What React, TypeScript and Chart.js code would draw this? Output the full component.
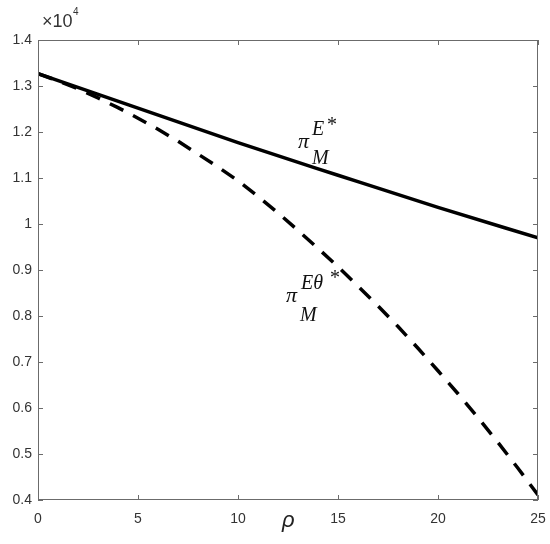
import React, { useEffect, useRef } from "react";
import { Chart, registerables } from "chart.js";

Chart.register(...registerables);

// rho values (x axis)
const rhoSolid = [0, 5, 10, 15, 20, 25];
// pi_M^{E*}  (×10^4)
const piE = [1.327, 1.252, 1.177, 1.106, 1.036, 0.97];

const rhoDashed = [0, 1, 2, 3, 4, 5, 6, 7, 8, 9, 10, 11, 12, 13, 14, 15, 16, 17, 18, 19, 20, 21, 22, 23, 24, 25];
// pi_M^{Eθ*}  (×10^4)
const piETheta = [
  1.327, 1.311, 1.294, 1.274, 1.253, 1.23, 1.206, 1.18, 1.152, 1.124, 1.094,
  1.06, 1.024, 0.986, 0.947, 0.907, 0.865, 0.822, 0.777, 0.73, 0.681, 0.631,
  0.579, 0.525, 0.469, 0.411,
];

const xTicks = [0, 5, 10, 15, 20, 25];
const yTicks = [0.4, 0.5, 0.6, 0.7, 0.8, 0.9, 1.0, 1.1, 1.2, 1.3, 1.4];

const TICK_FONT = '"Liberation Sans", Arial, sans-serif';
const SERIF = '"Liberation Serif", "Times New Roman", serif';

const overlay = {
  id: "matlabOverlay",
  afterDraw(chart: any) {
    const { ctx, chartArea, scales } = chart;
    const { left, right, top, bottom } = chartArea;
    const xs = scales.x;
    const ys = scales.y;
    ctx.save();
    // frame
    ctx.strokeStyle = "#6b6b6b";
    ctx.lineWidth = 1;
    ctx.strokeRect(Math.round(left) + 0.5, Math.round(top) + 0.5, Math.round(right - left) - 1, Math.round(bottom - top) - 1);
    // inward ticks
    const tl = 5;
    ctx.beginPath();
    xTicks.forEach((v) => {
      const px = Math.round(xs.getPixelForValue(v)) + 0.5;
      ctx.moveTo(px, bottom);
      ctx.lineTo(px, bottom - tl);
      ctx.moveTo(px, top);
      ctx.lineTo(px, top + tl);
    });
    yTicks.forEach((v) => {
      const py = Math.round(ys.getPixelForValue(v)) + 0.5;
      ctx.moveTo(left, py);
      ctx.lineTo(left + tl, py);
      ctx.moveTo(right, py);
      ctx.lineTo(right - tl, py);
    });
    ctx.stroke();

    // exponent label
    ctx.fillStyle = "#333";
    ctx.textBaseline = "alphabetic";
    ctx.textAlign = "left";
    ctx.font = `18px ${TICK_FONT}`;
    ctx.fillText("×10", 42, 27);
    ctx.font = `10px ${TICK_FONT}`;
    ctx.fillText("4", 73, 15);

    // x axis label rho
    ctx.fillStyle = "#222";
    ctx.font = `italic 22px ${TICK_FONT}`;
    ctx.fillText("ρ", 282, 527);

    // annotations
    ctx.fillStyle = "#111";
    ctx.font = `italic 22px ${SERIF}`;
    ctx.fillText("π", 298, 148);
    ctx.font = `italic 20px ${SERIF}`;
    ctx.fillText("E", 312, 135);
    ctx.font = `20px ${SERIF}`;
    ctx.fillText("*", 327, 131);
    ctx.font = `italic 20px ${SERIF}`;
    ctx.fillText("M", 312, 164);

    ctx.font = `italic 22px ${SERIF}`;
    ctx.fillText("π", 286, 302);
    ctx.font = `italic 20px ${SERIF}`;
    ctx.fillText("Eθ", 301, 289);
    ctx.font = `20px ${SERIF}`;
    ctx.fillText("*", 330, 284);
    ctx.font = `italic 20px ${SERIF}`;
    ctx.fillText("M", 300, 321);
    ctx.restore();
  },
};

export default function App() {
  const ref = useRef<HTMLCanvasElement | null>(null);
  useEffect(() => {
    document.body.style.margin = "0";
    const canvas = ref.current;
    if (!canvas) return;
    const chart = new Chart(canvas, {
      type: "line",
      data: {
        datasets: [
          {
            label: "piE",
            data: rhoSolid.map((x, i) => ({ x, y: piE[i] })),
            borderColor: "#000",
            borderWidth: 3.5,
            pointRadius: 0,
            cubicInterpolationMode: "monotone",
            fill: false,
          },
          {
            label: "piETheta",
            data: rhoDashed.map((x, i) => ({ x, y: piETheta[i] })),
            borderColor: "#000",
            borderWidth: 3.5,
            borderDash: [15, 11],
            borderCapStyle: "butt",
            pointRadius: 0,
            tension: 0,
            fill: false,
          },
        ],
      },
      options: {
        responsive: false,
        animation: false,
        devicePixelRatio: 1,
        layout: { padding: { left: 0, right: 12, top: 40, bottom: 0 } },
        plugins: { legend: { display: false }, tooltip: { enabled: false } },
        scales: {
          x: {
            type: "linear",
            min: 0,
            max: 25,
            afterBuildTicks: (s: any) => {
              s.ticks = xTicks.map((v) => ({ value: v }));
            },
            afterFit: (s: any) => {
              s.height = 44;
              s.paddingLeft = 0;
              s.paddingRight = 0;
            },
            grid: { display: false, drawTicks: false },
            border: { display: false },
            ticks: {
              padding: 11,
              maxRotation: 0,
              color: "#333",
              font: { family: TICK_FONT, size: 14 },
              callback: (v: any) => String(v),
            },
          },
          y: {
            type: "linear",
            min: 0.4,
            max: 1.4,
            afterBuildTicks: (s: any) => {
              s.ticks = yTicks.map((v) => ({ value: v }));
            },
            afterFit: (s: any) => {
              s.width = 38;
              s.paddingTop = 0;
              s.paddingBottom = 0;
            },
            grid: { display: false, drawTicks: false },
            border: { display: false },
            ticks: {
              padding: 6,
              color: "#333",
              font: { family: TICK_FONT, size: 14 },
              callback: (v: any) => String(Number(Number(v).toFixed(1))),
            },
          },
        },
      },
      plugins: [overlay],
    });
    return () => chart.destroy();
  }, []);
  return (
    <div style={{ position: "absolute", left: 0, top: 0, width: 550, height: 544, background: "#fff" }}>
      <canvas ref={ref} width={550} height={544} />
    </div>
  );
}
